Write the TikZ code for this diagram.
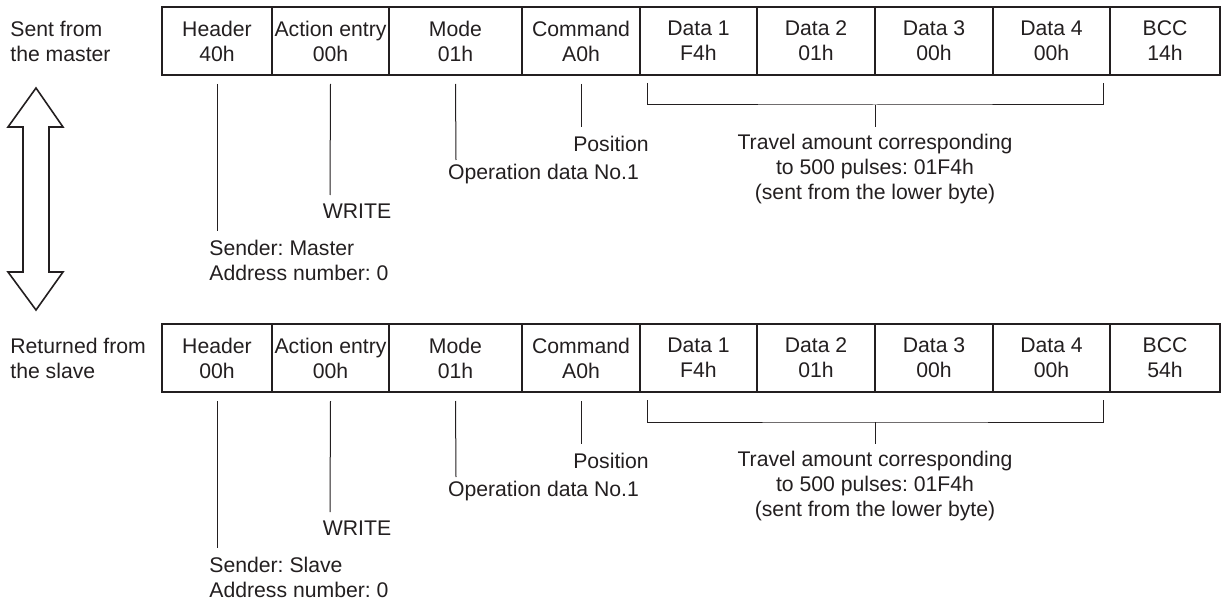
\documentclass[tikz,border=0pt]{standalone}
\usepackage{fontspec}
\setmainfont{Liberation Sans}
\frenchspacing
\definecolor{ink}{HTML}{231F20}
\begin{document}
\begin{tikzpicture}[x=0.5pt,y=-0.5pt,
  every node/.style={text=ink,font=\fontsize{10.6}{12.5}\selectfont,inner sep=0pt},
  cell/.style={draw=ink,line width=1pt,minimum height=34pt,align=center,anchor=center},
  lbl/.style={align=center},
  lbll/.style={align=left,anchor=west},
  lead/.style={draw=ink,line width=0.5pt},
  bigarrow/.style={draw=ink,line width=0.8pt,line join=miter}]
\useasboundingbox (0,0) rectangle (1222,599);

% double arrow
\draw[bigarrow] (36,88) -- (63,127) -- (49,127) -- (49,272) -- (63,272) -- (36,310)
  -- (8,272) -- (23,272) -- (23,127) -- (8,127) -- cycle;

\foreach \r/\dy/\hd/\bcc/\side/\sender in {t/0/40h/14h/{Sent from\\the master}/{Sender: Master\\Address number: 0},
                                            b/317/00h/54h/{Returned from\\the slave}/{Sender: Slave\\Address number: 0}}{
  \begin{scope}[yshift=-\dy*0.5pt]
  \node[lbll] (\r side) at (10,41.5) {\side};
  \node[cell,minimum width=55pt] (\r1) at (217,41) {Header\\\hd};
  \node[cell,minimum width=58.5pt] (\r2) at (330.5,41) {Action entry\\00h};
  \node[cell,minimum width=66.5pt] (\r3) at (455.5,41) {Mode\\01h};
  \node[cell,minimum width=59pt] (\r4) at (581,41) {Command\\A0h};
  \node[cell,minimum width=58.5pt] (\r5) at (698.5,41) {Data 1\\F4h};
  \node[cell,minimum width=59pt] (\r6) at (816,41) {Data 2\\01h};
  \node[cell,minimum width=59pt] (\r7) at (934,41) {Data 3\\00h};
  \node[cell,minimum width=58.5pt] (\r8) at (1051.5,41) {Data 4\\00h};
  \node[cell,minimum width=55pt] (\r9) at (1165,41) {BCC\\\bcc};

  \node[lbll] (\r sender) at (209,260) {\sender};
  \node[lbl] (\r write) at (357,211) {WRITE};
  \node[lbl] (\r opdata) at (543.5,174) {Operation data No.1};
  \node[lbl] (\r pos) at (611,144) {Position};
  \node[lbl] (\r travel) at (875,169) {Travel amount corresponding\\to 500 pulses: 01F4h\\(sent from the lower byte)};

  \coordinate (\r e1) at (217,231);
  \coordinate (\r e2) at (330,195);
  \coordinate (\r e3) at (456,160);
  \coordinate (\r e4) at (581,127);
  \coordinate (\r bl) at (647,83);
  \coordinate (\r br) at (1103,83);
  \coordinate (\r bm) at (875,105);
  \coordinate (\r bt) at (875,127);

  \draw[lead] ([yshift=-4pt]\r1.south) -- (\r e1);
  \draw[lead] ([yshift=-4pt]\r2.south) -- (\r e2);
  \draw[lead] ([yshift=-4pt]\r3.south) -- (\r e3);
  \draw[lead] ([yshift=-4pt]\r4.south) -- (\r e4);
  \draw[lead] (\r bl) |- (\r bm) -| (\r br);
  \draw[lead] (\r bm) -- (\r bt);
  \end{scope}
}
\end{tikzpicture}
\end{document}
